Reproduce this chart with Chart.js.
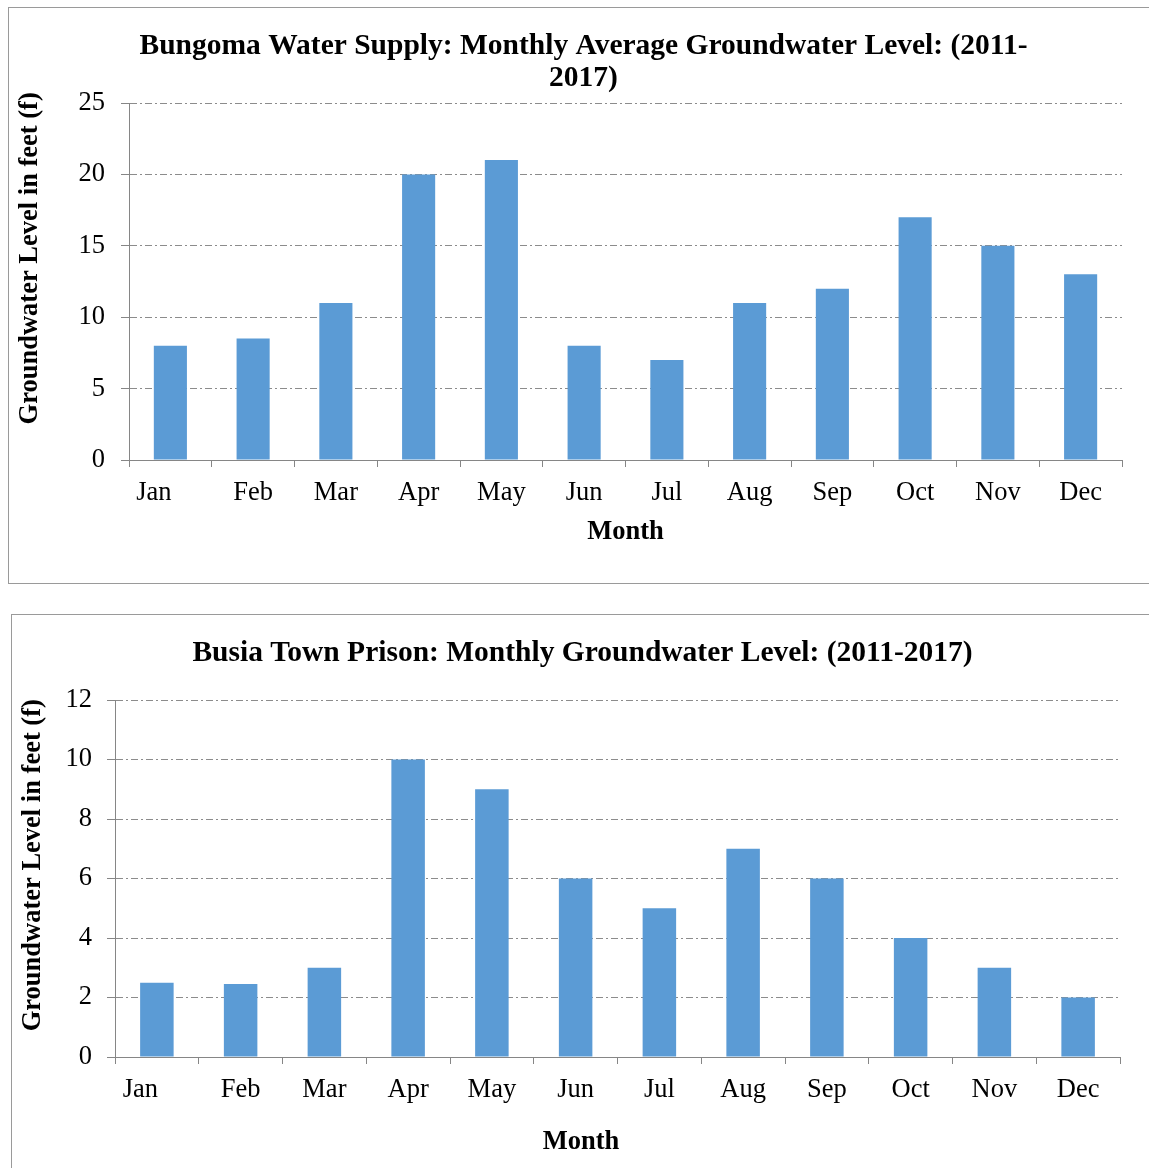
<!DOCTYPE html>
<html>
<head>
<meta charset="utf-8">
<script src="https://cdn.jsdelivr.net/npm/chart.js@4.4.1/dist/chart.umd.min.js"></script>
<style>
  html, body { margin: 0; padding: 0; background: #fff; overflow: hidden; width: 1149px; height: 1168px; }
  .box { position: absolute; border: 1px solid #9a9a9a; box-sizing: border-box; }
  canvas { position: absolute; }
</style>
</head>
<body>
<div class="box" style="left:8px; top:7px; width:1200px; height:577px;"></div>
<div class="box" style="left:11px; top:614px; width:1200px; height:600px;"></div>
<canvas id="c1" width="1140" height="574" style="left:9px; top:8px;"></canvas>
<canvas id="c2" width="1140" height="553" style="left:12px; top:615px;"></canvas>
<script>
// ---- data ----
const months = ['Jan', 'Feb', 'Mar', 'Apr', 'May', 'Jun', 'Jul', 'Aug', 'Sep', 'Oct', 'Nov', 'Dec'];
const bungomaLevels = [8, 8.5, 11, 20, 21, 8, 7, 11, 12, 17, 15, 13];
const busiaLevels = [2.5, 2.45, 3, 10, 9, 6, 5, 7, 6, 4, 3, 2];
const bungomaTitle = ['Bungoma Water Supply: Monthly Average Groundwater Level: (2011-', '2017)'];
const busiaTitle = 'Busia Town Prison: Monthly Groundwater Level: (2011-2017)';
const yAxisTitle = 'Groundwater Level in feet (f)';
const xAxisTitle = 'Month';
const bungomaYMax = 25, bungomaYStep = 5;
const busiaYMax = 12, busiaYStep = 2;

const FONT = "'Liberation Serif', 'Times New Roman', serif";
const AXIS = '#868686';
const GRID = '#8c8c8c';
const BAR = '#5B9BD5';
const AX_SIZE = 26.5;

function makeChart(id, labels, values, title, yMax, yStep, L) {
  return new Chart(document.getElementById(id), {
    type: 'bar',
    data: {
      labels: labels,
      datasets: [{
        data: values,
        backgroundColor: BAR,
        borderWidth: 0,
        categoryPercentage: 1,
        barPercentage: 0.4
      }]
    },
    options: {
      responsive: false,
      animation: false,
      devicePixelRatio: 1,
      layout: { padding: { left: L.padL, right: L.padR, top: 0, bottom: 0 } },
      plugins: {
        legend: { display: false },
        tooltip: { enabled: false },
        title: {
          display: true,
          text: title,
          color: '#000',
          font: { family: FONT, size: 29.5, weight: 'bold', lineHeight: 32 / 29.5 },
          padding: { top: L.titleTop, bottom: L.titleBottom }
        }
      },
      scales: {
        x: {
          afterFit: (s) => { s.height = L.xH; },
          grid: {
            display: true, drawOnChartArea: false, drawTicks: true,
            tickLength: 7, color: AXIS, tickColor: AXIS, tickWidth: 1, offset: true
          },
          border: { display: true, color: AXIS, width: 1 },
          ticks: {
            color: '#000', font: { family: FONT, size: AX_SIZE }, padding: 10, maxRotation: 0, autoSkip: false,
            callback: function (v, i) { const t = this.getLabelForValue(v); return i === 0 ? t + '     ' : t; }
          },
          title: {
            display: true, text: L.xTitleText, color: '#000',
            font: { family: FONT, size: AX_SIZE, weight: 'bold', lineHeight: 1.2 },
            padding: { top: 0, bottom: L.xTitleBottom }
          }
        },
        y: {
          min: 0, max: yMax,
          afterFit: (s) => { s.width = L.yW; },
          grid: {
            display: true, drawOnChartArea: true, drawTicks: true,
            tickLength: 8, color: GRID, tickColor: AXIS, lineWidth: 1,
            tickBorderDash: []
          },
          border: { display: true, color: AXIS, width: 1, dash: [7, 3, 2, 3] },
          ticks: { stepSize: yStep, color: '#000', font: { family: FONT, size: AX_SIZE }, padding: L.yTickPad },
          title: {
            display: true, text: L.yTitleText, color: '#000',
            font: { family: FONT, size: AX_SIZE, weight: 'bold', lineHeight: 1.2 },
            padding: { top: L.yTitleTop, bottom: 0 }
          }
        }
      }
    }
  });
}

makeChart('c1', months, bungomaLevels, bungomaTitle, bungomaYMax, bungomaYStep, {
  padL: 36, padR: 27, titleTop: 22, titleBottom: 9, xH: 122, xTitleBottom: 34,
  yW: 84, yTickPad: 16, yTitleTop: -30.9, yTitleText: '       ' + yAxisTitle,
  xTitleText: xAxisTitle
});
makeChart('c2', months, busiaLevels, busiaTitle, busiaYMax, busiaYStep, {
  padL: 33, padR: 32, titleTop: 22, titleBottom: 31, xH: 111, xTitleBottom: 10,
  yW: 70, yTickPad: 15, yTitleTop: -27.9, yTitleText: '    ' + yAxisTitle,
  xTitleText: xAxisTitle + '           '
});
</script>
</body>
</html>
